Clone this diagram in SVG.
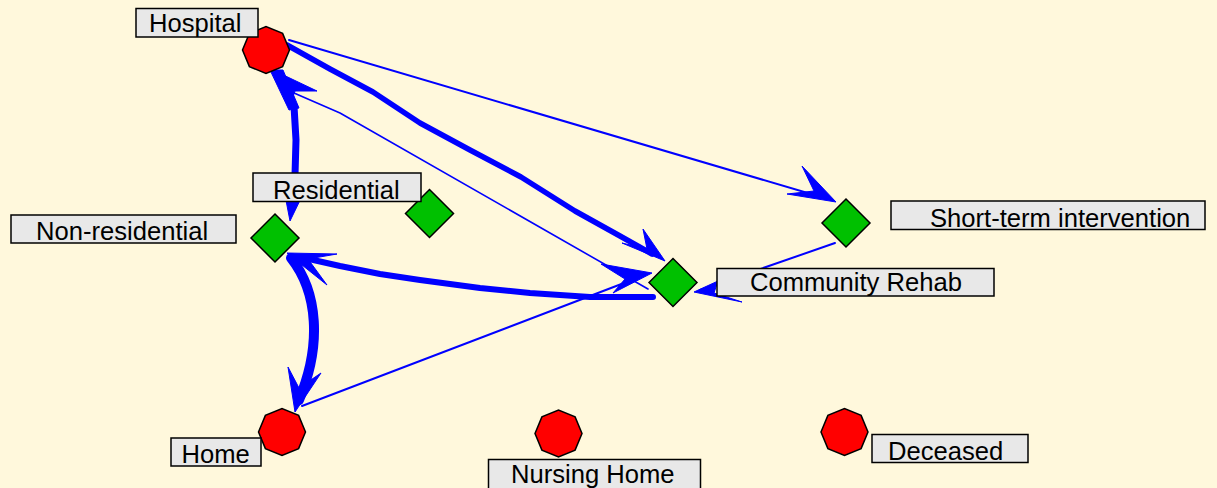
<svg xmlns="http://www.w3.org/2000/svg" xmlns:xlink="http://www.w3.org/1999/xlink" width="1217" height="488" viewBox="0 0 1217 488">
  <style>
    .c { fill: none; stroke: #0000ff; stroke-linecap: round; stroke-linejoin: round; }
    .ah { fill: #0000ff; stroke: #0000ff; stroke-width: 1; stroke-linejoin: round; }
    .oct { fill: #ff0000; stroke: #000; stroke-width: 1.5; }
    .dia { fill: #00c000; stroke: #000; stroke-width: 1.5; }
    .lb { fill: #e8e8e8; stroke: #000; stroke-width: 1.5; }
    .lt { font-family: "Liberation Sans", Arial, sans-serif; font-size: 25.6px; fill: #000; }
  </style>
  <defs>
    <polygon id="oct" class="oct" points="23.5,0 16.6,16.6 0,23.5 -16.6,16.6 -23.5,0 -16.6,-16.6 0,-23.5 16.6,-16.6"/>
    <polygon id="dia" class="dia" points="0,-24 24,0 0,24 -24,0"/>
  </defs>

  <rect width="1217" height="488" fill="#fff8dc"/>

  <g id="connectors">
    <!-- Hospital to Short-term intervention -->
    <path class="c" stroke-width="2" d="M289,40 L828,199"/>
    <polygon class="ah" points="836,202 802,166 814,191 787,194"/>

    <!-- Hospital to Community Rehab -->
    <path class="c" stroke-width="5.5" d="M287,45 L330,69 L373,92 L420,123 L470,150 L521,177 L575,211 L620,236 L652,254"/>
    <polygon class="ah" points="665,261 643,229 647,249 622,243"/>

    <!-- Community Rehab to Hospital -->
    <path class="c" stroke-width="1.6" d="M648,289 L340,113 L294,93 L280,77"/>
    <polygon class="ah" points="275,71 317,91 295,91 289,108"/>

    <!-- Hospital to Non-residential -->
    <polygon class="ah" points="270,70 283,70 299,108 289,110"/>
    <path class="c" stroke-width="7" d="M294,106 L296,140 L295,175 L293,194"/>
    <polygon class="ah" points="290,221 284,190 294,196 305,190"/>

    <!-- Community Rehab to Non-residential -->
    <path class="c" stroke-width="6" d="M653,297 L590,297 L530,293 L480,288 L420,280 L380,274 L340,266 L300,257"/>
    <polygon class="ah" points="287,253 337,254 308,259 327,285"/>

    <!-- Non-residential to Home -->
    <path class="c" stroke-width="10" d="M291,258 C318,292 322,345 299,400"/>
    <polygon class="ah" points="295,412 288,367 299,388 321,373"/>

    <!-- Home to Community Rehab -->
    <path class="c" stroke-width="2" d="M302,406 L645,275"/>
    <polygon class="ah" points="652,273 601,264 625,279 613,293"/>

    <!-- Short-term intervention to Community Rehab -->
    <path class="c" stroke-width="2" d="M835,243 L700,290"/>
    <polygon class="ah" points="694,292 718,281 714,293 742,302"/>
  </g>

  <g id="hospital">
    <use xlink:href="#oct" href="#oct" x="266" y="50"/>
    <rect class="lb" x="136" y="8.5" width="122" height="28.5"/>
    <text class="lt" x="149" y="32">Hospital</text>
  </g>

  <g id="residential">
    <use xlink:href="#dia" href="#dia" x="429.5" y="213.5"/>
    <rect class="lb" x="253" y="173" width="168" height="28.5"/>
    <text class="lt" x="273" y="199">Residential</text>
  </g>

  <g id="non-residential">
    <use xlink:href="#dia" href="#dia" x="275" y="238"/>
    <rect class="lb" x="11" y="215" width="225" height="28"/>
    <text class="lt" x="36" y="240">Non-residential</text>
  </g>

  <g id="short-term-intervention">
    <use xlink:href="#dia" href="#dia" x="846" y="223"/>
    <rect class="lb" x="891" y="201" width="314" height="28.5"/>
    <text class="lt" x="930" y="227">Short-term intervention</text>
  </g>

  <g id="community-rehab">
    <use xlink:href="#dia" href="#dia" x="673" y="282.5"/>
    <rect class="lb" x="717" y="268.5" width="277" height="27.5"/>
    <text class="lt" x="750" y="291">Community Rehab</text>
  </g>

  <g id="home">
    <use xlink:href="#oct" href="#oct" x="282" y="432"/>
    <rect class="lb" x="171" y="438" width="90" height="28"/>
    <text class="lt" x="181.5" y="463">Home</text>
  </g>

  <g id="nursing-home">
    <use xlink:href="#oct" href="#oct" x="558.5" y="433.5"/>
    <rect class="lb" x="488.5" y="459.5" width="212" height="30"/>
    <text class="lt" x="511" y="483">Nursing Home</text>
  </g>

  <g id="deceased">
    <use xlink:href="#oct" href="#oct" x="844.5" y="432"/>
    <rect class="lb" x="872" y="434.5" width="156" height="28"/>
    <text class="lt" x="888" y="460">Deceased</text>
  </g>
</svg>
